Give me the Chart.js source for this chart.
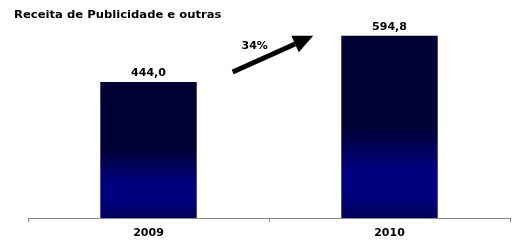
<!DOCTYPE html>
<html>
<head>
<meta charset="utf-8">
<script src="https://cdn.jsdelivr.net/npm/chart.js@4"></script>
<style>
  html, body { margin: 0; padding: 0; background: #fff; overflow: hidden; }
  #wrap { width: 515px; height: 245px; }
</style>
</head>
<body>
<div id="wrap"><canvas id="chart"></canvas></div>
<script>
const years = ['2009', '2010'];
const receita = [444.0, 594.8];
const growthLabel = '34%';
const chartTitle = 'Receita de Publicidade e outras';

const FONT = '"DejaVu Sans", Verdana, sans-serif';

// gradient per bar: dark navy at top, blue near bottom
function barGradient(ctx) {
  const chart = ctx.chart;
  const y = chart.scales && chart.scales.y;
  if (!y || ctx.dataIndex === undefined) return '#000033';
  const top = y.getPixelForValue(receita[ctx.dataIndex]);
  const bottom = y.getPixelForValue(0);
  if (!isFinite(top) || !isFinite(bottom) || bottom <= top) return '#000033';
  const g = chart.ctx.createLinearGradient(0, top, 0, bottom);
  g.addColorStop(0, '#000033');
  g.addColorStop(0.5, '#000035');
  g.addColorStop(0.74, '#00007e');
  g.addColorStop(0.88, '#00007e');
  g.addColorStop(1, '#000058');
  return g;
}

const extras = {
  id: 'extras',
  afterDatasetsDraw(chart) {
    const c = chart.ctx;
    const bars = chart.getDatasetMeta(0).data;
    c.save();
    c.fillStyle = '#000';

    // title, slightly stretched like the original
    c.save();
    c.translate(14, 15);
    c.scale(1.16, 1);
    c.font = 'bold 10px ' + FONT;
    c.textAlign = 'left';
    c.textBaseline = 'middle';
    c.fillText(chartTitle, 0, 0);
    c.restore();

    c.font = 'bold 11px ' + FONT;
    c.textAlign = 'center';
    c.textBaseline = 'bottom';
    bars.forEach((b, i) => {
      c.fillText(receita[i].toFixed(1).replace('.', ','), b.x, b.y - 3);
    });

    // growth arrow between the two bars
    const b1 = bars[0], b2 = bars[1];
    const x0 = b1.x + b1.width / 2 + 36, y0 = b1.y - 10;
    const x1 = b2.x - b2.width / 2 - 28, y1 = b2.y;
    const ang = Math.atan2(y1 - y0, x1 - x0);
    const headLen = 20, headW = 9;
    const bx = x1 - headLen * Math.cos(ang), by = y1 - headLen * Math.sin(ang);
    c.strokeStyle = '#000';
    c.lineWidth = 5;
    c.beginPath();
    c.moveTo(x0, y0);
    c.lineTo(bx, by);
    c.stroke();
    c.beginPath();
    c.moveTo(x1, y1);
    c.lineTo(bx + headW * Math.sin(ang), by - headW * Math.cos(ang));
    c.lineTo(bx - headW * Math.sin(ang), by + headW * Math.cos(ang));
    c.closePath();
    c.fill();

    c.textBaseline = 'middle';
    c.fillText(growthLabel, x0 + 22, y0 - 26);
    c.restore();
  }
};

new Chart(document.getElementById('chart'), {
  type: 'bar',
  data: {
    labels: years,
    datasets: [{
      data: receita,
      backgroundColor: barGradient,
      borderWidth: 0,
      barPercentage: 0.4,
      categoryPercentage: 1.0
    }]
  },
  options: {
    responsive: true,
    maintainAspectRatio: false,
    animation: false,
    layout: { padding: { left: 28, right: 5, top: 22, bottom: 0 } },
    plugins: {
      legend: { display: false },
      tooltip: { enabled: false },
      title: { display: false }
    },
    scales: {
      x: {
        offset: true,
        grid: {
          offset: true,
          drawOnChartArea: false,
          drawTicks: true,
          tickLength: 4,
          color: '#888'
        },
        border: { display: true, color: '#888', width: 1 },
        ticks: {
          color: '#000',
          padding: 6,
          font: { family: FONT, size: 11, weight: 'bold', lineHeight: 1 }
        }
      },
      y: {
        display: false,
        min: 0,
        max: 640
      }
    }
  },
  plugins: [extras]
});
</script>
</body>
</html>
